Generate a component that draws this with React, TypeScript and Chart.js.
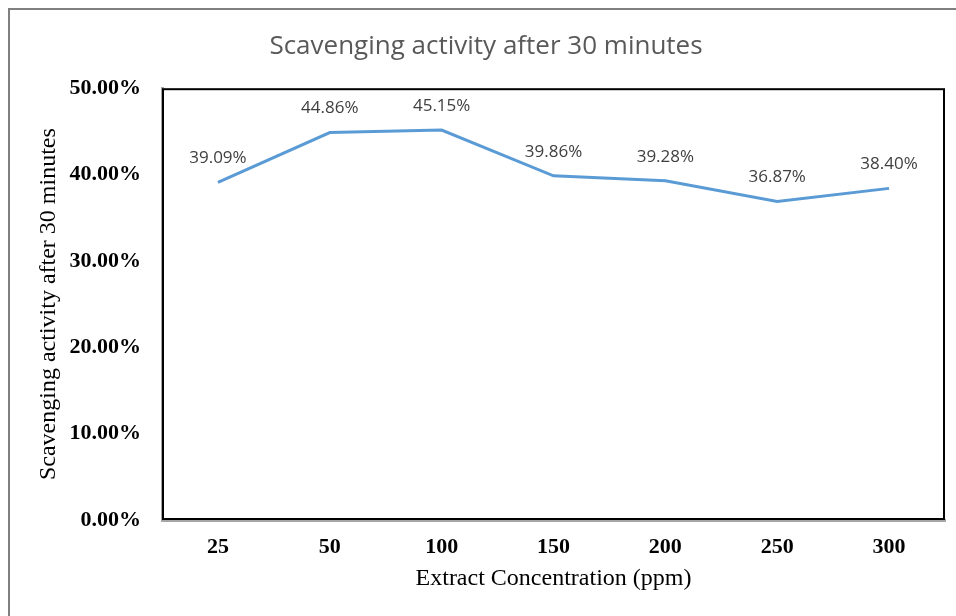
import React, { useEffect, useRef } from "react";
import { Chart, registerables } from "chart.js";

Chart.register(...registerables);

const categories = ["25", "50", "100", "150", "200", "250", "300"];
const activity = [39.09, 44.86, 45.15, 39.86, 39.28, 36.87, 38.4];
const yTicks = [0, 10, 20, 30, 40, 50];
const chartTitle = "Scavenging activity after 30 minutes";
const xTitle = "Extract Concentration (ppm)";
const yTitle = "Scavenging activity after 30 minutes";

const labelPlugin = {
  id: "pointLabels",
  afterDatasetsDraw(chart: any) {
    const ctx = chart.ctx;
    const meta = chart.getDatasetMeta(0);
    ctx.save();
    ctx.font = '17px "Open Sans"';
    ctx.fillStyle = "#404040";
    ctx.textAlign = "center";
    ctx.textBaseline = "middle";
    meta.data.forEach((pt: any, i: number) => {
      ctx.fillText(activity[i].toFixed(2) + "%", pt.x, pt.y - 24);
    });
    ctx.restore();
  },
};

const boxPlugin = {
  id: "plotBox",
  afterDraw(chart: any) {
    const { left, top, right, bottom } = chart.chartArea;
    const ctx = chart.ctx;
    ctx.save();
    ctx.strokeStyle = "#000000";
    ctx.lineWidth = 2;
    ctx.strokeRect(left + 1, top + 1, right - left - 2, bottom - top - 2);
    ctx.restore();
  },
};

export default function App() {
  const ref = useRef<HTMLCanvasElement | null>(null);
  useEffect(() => {
    if (!ref.current) return;
    const chart = new Chart(ref.current, {
      type: "line",
      data: {
        labels: categories,
        datasets: [
          {
            data: activity,
            borderColor: "#5B9BD5",
            borderWidth: 3,
            pointRadius: 0,
            tension: 0,
            fill: false,
          },
        ],
      },
      options: {
        responsive: false,
        animation: false,
        layout: { padding: { left: 17, right: 11, top: 0, bottom: 0 } },
        plugins: {
          legend: { display: false },
          tooltip: { enabled: false },
          title: {
            display: true,
            text: chartTitle,
            color: "#595959",
            font: { family: '"Open Sans"', size: 26, weight: "normal" },
            padding: { top: 21, bottom: 26 },
          },
        },
        scales: {
          x: {
            offset: true,
            grid: { display: false, drawTicks: false },
            border: { display: true, color: "#a6a6a6", width: 3 },
            ticks: {
              color: "#000000",
              font: { family: '"Liberation Serif"', size: 22, weight: "bold" },
              padding: 14,
              maxRotation: 0,
            },
            title: {
              display: true,
              text: xTitle,
              color: "#000000",
              font: { family: '"Liberation Serif"', size: 24, weight: "normal" },
              padding: { top: 0, bottom: 23 },
            },
            afterFit(scale: any) {
              scale.height = 96;
            },
          },
          y: {
            min: 0,
            max: 50,
            grid: { display: false, drawTicks: false },
            border: { display: true, color: "#a6a6a6", width: 3 },
            afterBuildTicks(scale: any) {
              scale.ticks = yTicks.map((v) => ({ value: v }));
            },
            ticks: {
              color: "#000000",
              font: { family: '"Liberation Serif"', size: 22, weight: "bold" },
              padding: 21,
              callback: (v: any) => Number(v).toFixed(2) + "%",
            },
            title: {
              display: true,
              text: yTitle,
              color: "#000000",
              font: { family: '"Liberation Serif"', size: 24, weight: "normal" },
              padding: { top: 7, bottom: 0 },
            },
            afterFit(scale: any) {
              scale.width = 135;
            },
          },
        },
      },
      plugins: [labelPlugin, boxPlugin],
    });
    return () => chart.destroy();
  }, []);

  return (
    <div
      style={{
        position: "absolute",
        left: 8,
        top: 8,
        width: 948,
        height: 608,
        boxSizing: "border-box",
        borderLeft: "2px solid #7f7f7f",
        borderTop: "2px solid #7f7f7f",
        background: "#ffffff",
      }}
    >
      <canvas ref={ref} width={946} height={606} style={{ display: "block", width: 946, height: 606 }} />
    </div>
  );
}
